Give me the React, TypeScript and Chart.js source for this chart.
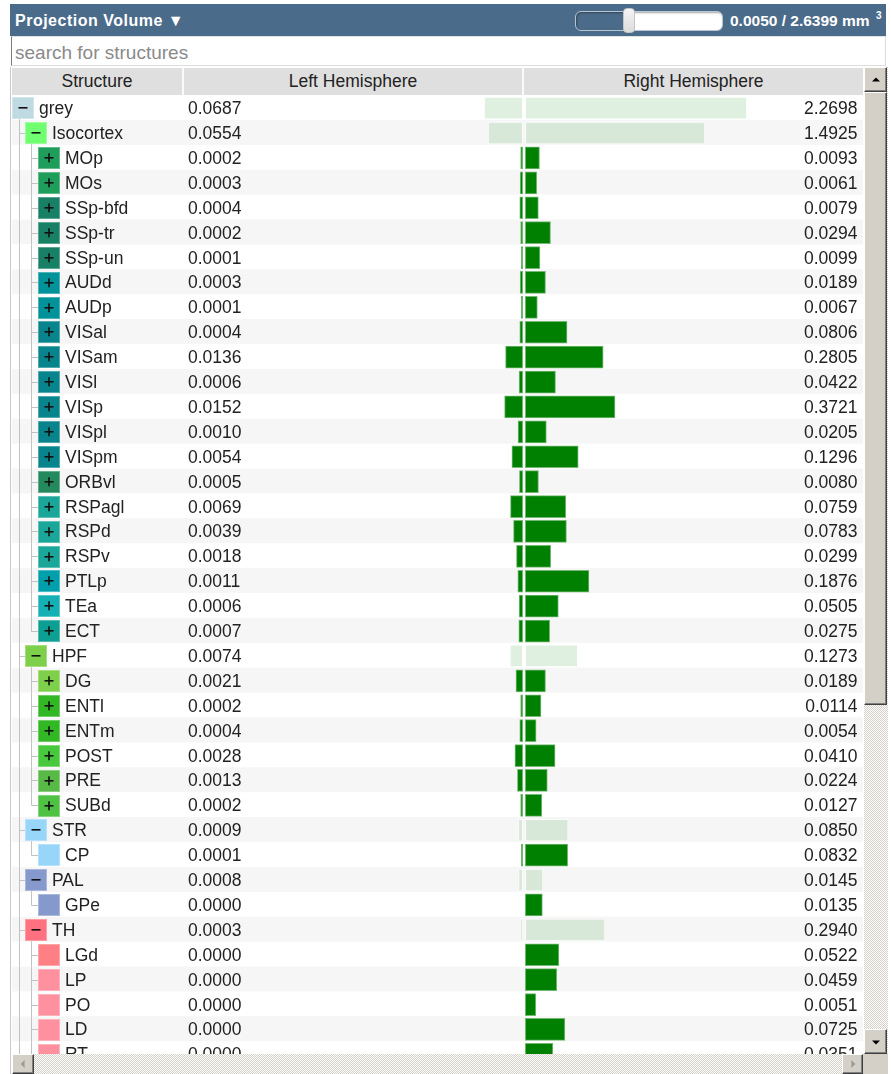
import React, { useEffect, useRef } from 'react';
import { Chart, registerables } from 'chart.js';

Chart.register(...registerables);

// ---------- data ----------
const STRUCTURES = ['grey', 'Isocortex', 'MOp', 'MOs', 'SSp-bfd', 'SSp-tr', 'SSp-un', 'AUDd', 'AUDp', 'VISal', 'VISam', 'VISl', 'VISp', 'VISpl', 'VISpm', 'ORBvl', 'RSPagl', 'RSPd', 'RSPv', 'PTLp', 'TEa', 'ECT', 'HPF', 'DG', 'ENTl', 'ENTm', 'POST', 'PRE', 'SUBd', 'STR', 'CP', 'PAL', 'GPe', 'TH', 'LGd', 'LP', 'PO', 'LD', 'RT'];
const DEPTH = [0, 1, 2, 2, 2, 2, 2, 2, 2, 2, 2, 2, 2, 2, 2, 2, 2, 2, 2, 2, 2, 2, 1, 2, 2, 2, 2, 2, 2, 1, 2, 1, 2, 1, 2, 2, 2, 2, 2];
const TOGGLE = ['-', '-', '+', '+', '+', '+', '+', '+', '+', '+', '+', '+', '+', '+', '+', '+', '+', '+', '+', '+', '+', '+', '-', '+', '+', '+', '+', '+', '+', '-', '', '-', '', '-', '', '', '', '', ''];
const SWATCH = ['#BFDAE3', '#70FF71', '#1F9D5A', '#1F9D5A', '#188064', '#188064', '#188064', '#019399', '#019399', '#08858C', '#08858C', '#08858C', '#08858C', '#08858C', '#08858C', '#248A5E', '#1AA698', '#1AA698', '#1AA698', '#009FAC', '#15B0B3', '#0D9F91', '#7ED04B', '#7ED04B', '#32B825', '#32B825', '#48C83C', '#59B947', '#4FC244', '#98D6F9', '#98D6F9', '#8599CC', '#8599CC', '#FF7080', '#FF8084', '#FF909F', '#FF909F', '#FF909F', '#FF909F'];
const LEFT = [0.0687, 0.0554, 0.0002, 0.0003, 0.0004, 0.0002, 0.0001, 0.0003, 0.0001, 0.0004, 0.0136, 0.0006, 0.0152, 0.0010, 0.0054, 0.0005, 0.0069, 0.0039, 0.0018, 0.0011, 0.0006, 0.0007, 0.0074, 0.0021, 0.0002, 0.0004, 0.0028, 0.0013, 0.0002, 0.0009, 0.0001, 0.0008, 0.0000, 0.0003, 0.0000, 0.0000, 0.0000, 0.0000, 0.0000];
const RIGHT = [2.2698, 1.4925, 0.0093, 0.0061, 0.0079, 0.0294, 0.0099, 0.0189, 0.0067, 0.0806, 0.2805, 0.0422, 0.3721, 0.0205, 0.1296, 0.0080, 0.0759, 0.0783, 0.0299, 0.1876, 0.0505, 0.0275, 0.1273, 0.0189, 0.0114, 0.0054, 0.0410, 0.0224, 0.0127, 0.0850, 0.0832, 0.0145, 0.0135, 0.2940, 0.0522, 0.0459, 0.0051, 0.0725, 0.0351];
const COLUMNS = ['Structure', 'Left Hemisphere', 'Right Hemisphere'];
const TITLE = 'Projection Volume ▼';
const THRESHOLD_TEXT = '0.0050 / 2.6399 mm';
const SEARCH_PLACEHOLDER = 'search for structures';

const FONT = '"Liberation Sans", Arial, sans-serif';

const lighten = (hex: string, t: number) => {
  const n = parseInt(hex.slice(1), 16);
  const f = (c: number) => Math.round(c + (255 - c) * t);
  return `rgb(${f((n >> 16) & 255)},${f((n >> 8) & 255)},${f(n & 255)})`;
};

function hasNextSibling(i: number) {
  const d = DEPTH[i];
  for (let j = i + 1; j < DEPTH.length; j++) {
    if (DEPTH[j] < d) return false;
    if (DEPTH[j] === d) return true;
  }
  return true; // list continues beyond the visible part
}
function ancestorAt(i: number, L: number) {
  for (let k = i - 1; k >= 0; k--) if (DEPTH[k] === L) return k;
  return -1;
}

const treePlugin = {
  id: 'treeRows',
  beforeDatasetsDraw(chart: any) {
    const { ctx, chartArea } = chart;
    const ys = chart.scales.y;
    const n = STRUCTURES.length;
    const rowH = (chartArea.bottom - chartArea.top) / n;
    const W = chart.width;
    const boxL = (d: number) => 13 * d;
    const lineX = (L: number) => 12 * L + 7.5 - 12;
    ctx.save();
    // stripes
    for (let i = 0; i < n; i++) {
      const cy = ys.getPixelForValue(i);
      const top = cy - rowH / 2 - 0.7;
      if (i % 2 === 1) {
        ctx.fillStyle = '#f6f6f6';
        ctx.fillRect(0, top, W, rowH);
      }
    }
    // tree lines
    ctx.strokeStyle = '#c2c2c2';
    ctx.lineWidth = 1;
    const line = (x1: number, y1: number, x2: number, y2: number) => {
      ctx.beginPath();
      ctx.moveTo(x1, y1);
      ctx.lineTo(x2, y2);
      ctx.stroke();
    };
    for (let i = 0; i < n; i++) {
      const d = DEPTH[i];
      const cy = ys.getPixelForValue(i);
      const t = cy - rowH / 2 - 0.7;
      const b = t + rowH;
      const yc = Math.round(cy) + 0.5;
      for (let L = 1; L < d; L++) {
        const k = ancestorAt(i, L);
        if (k >= 0 && hasNextSibling(k)) line(lineX(L), t, lineX(L), b);
      }
      if (d >= 1) {
        line(lineX(d), t, lineX(d), hasNextSibling(i) ? b : yc);
        line(lineX(d), yc, boxL(d), yc);
      }
      if (i + 1 < n && DEPTH[i + 1] > d) line(lineX(d + 1), cy + 10.8, lineX(d + 1), b);
    }
    // swatches
    for (let i = 0; i < n; i++) {
      const d = DEPTH[i];
      const cy = ys.getPixelForValue(i);
      const x = boxL(d);
      const y = Math.round(cy - 10.8);
      ctx.fillStyle = SWATCH[i];
      ctx.fillRect(x, y, 22, 22);
      ctx.strokeStyle = lighten(SWATCH[i], 0.3);
      ctx.strokeRect(x + 0.5, y + 0.5, 21, 21);
      const cx = x + 11;
      const sy = y + 11;
      ctx.fillStyle = '#111';
      if (TOGGLE[i] === '-' || TOGGLE[i] === '+') ctx.fillRect(cx - 4.5, sy - 1, 9, 1.6);
      if (TOGGLE[i] === '+') ctx.fillRect(cx - 0.8, sy - 4.7, 1.6, 9);
    }
    // text
    ctx.font = `17.5px ${FONT}`;
    ctx.fillStyle = '#222';
    ctx.textBaseline = 'middle';
    for (let i = 0; i < n; i++) {
      const d = DEPTH[i];
      const cy = ys.getPixelForValue(i) + 1.2;
      ctx.textAlign = 'left';
      ctx.fillText(STRUCTURES[i], boxL(d) + 27, cy);
      ctx.fillText(LEFT[i].toFixed(4), 176, cy);
      ctx.textAlign = 'right';
      ctx.fillText(RIGHT[i].toFixed(4), 845.5, cy);
    }
    ctx.restore();
  },
};

const bevel: React.CSSProperties = {
  position: 'absolute',
  background: '#d4d0c8',
  borderTop: '1px solid #ffffff',
  borderLeft: '1px solid #ffffff',
  borderRight: '1px solid #404040',
  borderBottom: '1px solid #404040',
  boxShadow: 'inset -1px -1px 0 #808080',
  boxSizing: 'border-box',
};
const checker = 'repeating-conic-gradient(#d4d0c8 0% 25%, #ffffff 0% 50%) 0 0 / 2px 2px';

const tri = (dir: 'up' | 'down' | 'left' | 'right', color: string): React.CSSProperties => {
  const s: React.CSSProperties = { position: 'absolute', width: 0, height: 0, left: '50%', top: '50%' };
  if (dir === 'up') Object.assign(s, { borderLeft: '4px solid transparent', borderRight: '4px solid transparent', borderBottom: `4px solid ${color}`, transform: 'translate(-50%,-60%)' });
  if (dir === 'down') Object.assign(s, { borderLeft: '4px solid transparent', borderRight: '4px solid transparent', borderTop: `4px solid ${color}`, transform: 'translate(-50%,-40%)' });
  if (dir === 'left') Object.assign(s, { borderTop: '4px solid transparent', borderBottom: '4px solid transparent', borderRight: `4px solid ${color}`, transform: 'translate(-60%,-50%)' });
  if (dir === 'right') Object.assign(s, { borderTop: '4px solid transparent', borderBottom: '4px solid transparent', borderLeft: `4px solid ${color}`, transform: 'translate(-40%,-50%)' });
  return s;
};

export default function App() {
  const ref = useRef<HTMLCanvasElement>(null);

  useEffect(() => {
    if (!ref.current) return;
    const isParent = TOGGLE.map((t) => t === '-');
    const fill = isParent.map((p) => (p ? 'rgba(0,128,0,0.12)' : '#008000'));
    const edge = isParent.map((p) => (p ? 'rgba(255,255,255,0.5)' : '#76b976'));
    const chart = new Chart(ref.current, {
      type: 'bar',
      data: {
        labels: STRUCTURES,
        datasets: [
          {
            label: COLUMNS[1],
            data: LEFT.map((v) => Math.sqrt(v)),
            xAxisID: 'xL',
            yAxisID: 'y',
            backgroundColor: fill,
            borderColor: edge,
            borderWidth: 1,
            borderSkipped: false,
            barThickness: 22,
            grouped: false,
          } as any,
          {
            label: COLUMNS[2],
            data: RIGHT.map((v) => Math.sqrt(v)),
            xAxisID: 'xR',
            yAxisID: 'y',
            backgroundColor: fill,
            borderColor: edge,
            borderWidth: 1,
            borderSkipped: false,
            barThickness: 22,
            grouped: false,
          } as any,
        ],
      },
      options: {
        indexAxis: 'y',
        responsive: false,
        animation: false,
        events: [],
        layout: { padding: { top: 1.7, bottom: 0.2, left: 0, right: 0 } },
        scales: {
          xL: { type: 'linear', axis: 'x', position: 'bottom', stack: 'hemi', stackWeight: 512, reverse: true, min: -0.0088, max: 3.474, bounds: 'data', display: false },
          xR: { type: 'linear', axis: 'x', position: 'bottom', stack: 'hemi', stackWeight: 339, min: -0.0088, max: 2.297, bounds: 'data', display: false },
          y: { type: 'category', offset: true, display: false },
        } as any,
        plugins: { legend: { display: false }, tooltip: { enabled: false } },
      },
      plugins: [treePlugin],
    });
    return () => chart.destroy();
  }, []);

  return (
    <div style={{ position: 'absolute', left: 0, top: 0, width: 891, height: 1074, overflow: 'hidden', background: '#fff', fontFamily: FONT, color: '#222' }}>
      {/* rows (canvas) */}
      <div style={{ position: 'absolute', left: 12, top: 94, width: 851, height: 960, overflow: 'hidden' }}>
        <canvas ref={ref} width={851} height={973} style={{ display: 'block' }} />
      </div>

      {/* title bar */}
      <div style={{ position: 'absolute', left: 10, top: 4, width: 876, height: 32, background: '#4b6b8a' }}>
        <div style={{ position: 'absolute', left: 5, top: 1, lineHeight: '32px', color: '#fff', fontWeight: 'bold', fontSize: 16, letterSpacing: 0.5, whiteSpace: 'nowrap' }}>{TITLE}</div>
        <div style={{ position: 'absolute', left: 565, top: 7, width: 148, height: 20, boxSizing: 'border-box', borderRadius: 6, border: '1px solid #b9c5d0', background: 'linear-gradient(to right, #4b6b8a 0px, #4b6b8a 52px, #ffffff 52px)', boxShadow: 'inset 1px 1px 2px rgba(0,0,0,0.35)' }} />
        <div style={{ position: 'absolute', left: 613, top: 4, width: 12, height: 25, boxSizing: 'border-box', borderRadius: 4, border: '1px solid #c4c4c4', background: 'linear-gradient(#f4f4f4, #dcdcdc)' }} />
        <div style={{ position: 'absolute', left: 720, top: 1, lineHeight: '32px', color: '#fff', fontWeight: 'bold', fontSize: 15.5, whiteSpace: 'nowrap' }}>{THRESHOLD_TEXT}</div>
        <div style={{ position: 'absolute', left: 866, top: 6, lineHeight: '12px', color: '#fff', fontWeight: 'bold', fontSize: 10 }}>3</div>
      </div>

      {/* search box */}
      <div style={{ position: 'absolute', left: 11, top: 36, width: 875, height: 30, boxSizing: 'border-box', borderStyle: 'solid', borderWidth: 1, borderColor: '#e2e2e2 #dcdcdc #dcdcdc #7c7c7c', background: '#fff' }}>
        <div style={{ position: 'absolute', left: 3, top: 2, lineHeight: '28px', fontSize: 19, color: '#8a8a8a', whiteSpace: 'nowrap' }}>{SEARCH_PLACEHOLDER}</div>
      </div>

      {/* column header */}
      <div style={{ position: 'absolute', left: 12, top: 68, width: 851, height: 27, background: '#dfdfdf' }}>
        <div style={{ position: 'absolute', left: 170, top: 0, width: 2, height: 27, background: '#fafafa' }} />
        <div style={{ position: 'absolute', left: 510, top: 0, width: 2, height: 27, background: '#fafafa' }} />
        <div style={{ position: 'absolute', left: 0, top: 0, width: 170, lineHeight: '27px', textAlign: 'center', fontSize: 17.5 }}>{COLUMNS[0]}</div>
        <div style={{ position: 'absolute', left: 172, top: 0, width: 338, lineHeight: '27px', textAlign: 'center', fontSize: 17.5 }}>{COLUMNS[1]}</div>
        <div style={{ position: 'absolute', left: 512, top: 0, width: 339, lineHeight: '27px', textAlign: 'center', fontSize: 17.5 }}>{COLUMNS[2]}</div>
      </div>

      {/* left border */}
      <div style={{ position: 'absolute', left: 10, top: 67, width: 1, height: 1007, background: '#cacaca' }} />

      {/* vertical scrollbar */}
      <div style={{ position: 'absolute', left: 864, top: 67, width: 24, height: 987, background: checker }} />
      <div style={{ ...bevel, left: 864, top: 67, width: 23, height: 25 }}><div style={tri('up', '#000')} /></div>
      <div style={{ ...bevel, left: 864, top: 92, width: 23, height: 613 }} />
      <div style={{ ...bevel, left: 864, top: 1029, width: 23, height: 25 }}><div style={tri('down', '#000')} /></div>

      {/* horizontal scrollbar */}
      <div style={{ position: 'absolute', left: 12, top: 1054, width: 851, height: 20, background: checker }} />
      <div style={{ ...bevel, left: 12, top: 1054, width: 22, height: 20 }}><div style={tri('left', '#9a9a9a')} /></div>
      <div style={{ ...bevel, left: 842, top: 1054, width: 21, height: 20 }}><div style={tri('right', '#9a9a9a')} /></div>
      <div style={{ position: 'absolute', left: 863, top: 1054, width: 25, height: 20, background: '#d4d0c8' }} />
    </div>
  );
}
